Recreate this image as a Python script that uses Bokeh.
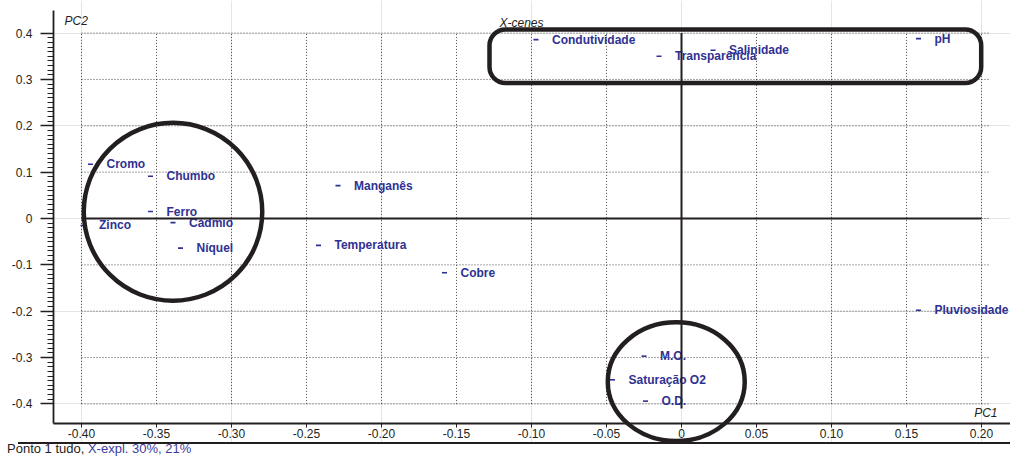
from bokeh.plotting import figure
from bokeh.layouts import column
from bokeh.models import (Range1d, LinearAxis, FixedTicker, NumeralTickFormatter,
                          BoxAnnotation, Label, ColumnDataSource, Div)
from bokeh.core.properties import value
from bokeh.embed import file_html
from bokeh.resources import INLINE

# PCA loadings of the water-quality variables (PC1, PC2)
variables = ["Cromo", "Chumbo", "Ferro", "Cádmio", "Zinco", "Níquel", "Manganês",
             "Temperatura", "Cobre", "Condutividade", "Transparência", "Salinidade",
             "pH", "Pluviosidade", "M.O.", "Saturação O2", "O.D."]
pc1 = [-0.394, -0.354, -0.354, -0.339, -0.399, -0.334, -0.229,
       -0.242, -0.158, -0.097, -0.015, 0.021,
       0.158, 0.158, -0.025, -0.046, -0.024]
pc2 = [0.117, 0.091, 0.015, -0.009, -0.015, -0.064, 0.071,
       -0.058, -0.117, 0.386, 0.350, 0.363,
       0.388, -0.198, -0.297, -0.348, -0.394]

x_ticks = [-0.40, -0.35, -0.30, -0.25, -0.20, -0.15, -0.10, -0.05, 0, 0.05, 0.10, 0.15, 0.20]
y_ticks = [-0.4, -0.3, -0.2, -0.1, 0, 0.1, 0.2, 0.3, 0.4]
y_minor = [round(v / 100, 2) for v in range(-39, 40) if v % 10 != 0]

# highlighted groups: circles (centre, width, height in PC units) and a rounded box
group_x = [-0.339, -0.0035]
group_y = [0.0145, -0.352]
group_w = [0.119, 0.0913]
group_h = [0.384, 0.256]
box_left, box_right, box_top, box_bottom = -0.128, 0.1998, 0.4078, 0.2921

INK = "#231f20"
BLUE = "#2e3192"
CAPTION_BLUE = "#3c3c9e"
GRID = "#4a4a4a"
FONT = "Liberation Sans"

W, H = 1010, 442               # plot canvas; the caption strip sits below it
CAPTION_H = 14
LEFT = 53                      # width of the PC2 axis panel
X0, X1 = -0.454, 0.21933       # PC1 at canvas x = 0 and x = W
Y1 = 0.47034                   # PC2 at the canvas top
PX_PER_PC2 = 463.5


def sx(px):
    return X0 + px * (X1 - X0) / W


def sy(py):
    return Y1 - py / PX_PER_PC2


p = figure(width=W, height=H, x_range=Range1d(sx(LEFT), X1), y_range=Range1d(sy(H), Y1),
           x_axis_location=None, y_axis_location=None, toolbar_location=None,
           output_backend="svg", min_border_left=LEFT, min_border_right=0,
           min_border_top=0, min_border_bottom=0, outline_line_color=None,
           background_fill_color="white", border_fill_color="white")

# PC2 axis in its own panel, line limited to the plotted span
yax = LinearAxis(bounds=(sy(423), sy(10)),
                 ticker=FixedTicker(ticks=y_ticks, minor_ticks=y_minor),
                 formatter=NumeralTickFormatter(format="0.0"),
                 major_label_overrides={0: "0"},
                 axis_line_color=INK, axis_line_width=1.8,
                 major_tick_in=0, major_tick_out=13, major_tick_line_width=1.5,
                 minor_tick_in=0, minor_tick_out=6, minor_tick_line_width=1,
                 major_tick_line_color=INK, minor_tick_line_color=INK,
                 major_label_standoff=8,
                 major_label_text_font=FONT, major_label_text_font_size="12px",
                 major_label_text_color=INK)
p.add_layout(yax, "left")

# dotted grid inside the loading range
gx0, gx1 = x_ticks[0], x_ticks[-1] + 0.005
gy0, gy1 = y_ticks[0], y_ticks[-1]
p.segment(x0=x_ticks, y0=[gy0] * len(x_ticks), x1=x_ticks, y1=[gy1] * len(x_ticks),
          line_color=GRID, line_width=1, line_dash="1 2")
p.segment(x0=[gx0] * len(y_ticks), y0=y_ticks, x1=[gx1] * len(y_ticks), y1=y_ticks,
          line_color=GRID, line_width=1, line_dash="1 2")

# PC1 axis rule
x_axis_y = sy(423)
p.segment(x0=[sx(18)], y0=[x_axis_y], x1=[X1], y1=[x_axis_y],
          line_color=INK, line_width=1.8)

xax = LinearAxis(fixed_location=x_axis_y,
                 ticker=FixedTicker(ticks=x_ticks, minor_ticks=[]),
                 formatter=NumeralTickFormatter(format="0.00"),
                 major_label_overrides={0: "0"},
                 axis_line_color=None,
                 major_tick_in=0, major_tick_out=4, minor_tick_out=0, minor_tick_in=0,
                 major_tick_line_color=INK, major_tick_line_width=1,
                 major_label_standoff=1,
                 major_label_text_font=FONT, major_label_text_font_size="12px",
                 major_label_text_color=INK)
p.add_layout(xax, "below")

src = ColumnDataSource(dict(name=variables, pc1=pc1, pc2=pc2))
p.scatter(x="pc1", y="pc2", marker="dash", size=5, line_color=BLUE, line_width=1.6,
          source=src)
p.text(x="pc1", y="pc2", text="name", x_offset=16, text_align="left",
       text_baseline="middle", text_font=value(FONT), text_font_style="bold",
       text_font_size="12px", text_color=BLUE, source=src)

# origin lines
p.segment(x0=[x_ticks[0], 0], y0=[0, -0.41], x1=[x_ticks[-1], 0], y1=[0, y_ticks[-1]],
          line_color=INK, line_width=2)

# group highlights
p.ellipse(x=group_x, y=group_y, width=group_w, height=group_h,
          fill_color=None, line_color=INK, line_width=4.5, level="overlay")
p.add_layout(BoxAnnotation(left=box_left, right=box_right, top=box_top, bottom=box_bottom,
                           border_radius=16, fill_color=None, fill_alpha=0,
                           line_color=INK, line_alpha=1, line_width=4.5))


# axis titles
def caption(text, px, py, align="left"):
    p.add_layout(Label(x=sx(px), y=sy(py), text=text, text_align=align,
                       text_baseline="middle", text_font=FONT, text_font_style="italic",
                       text_font_size="12px", text_color=INK))


caption("PC2", 64, 20)
caption("X-cenes", 499, 22)
caption("PC1", 997, 412, align="right")

# footer with the ruled line above it
footer = Div(text=f'Ponto 1 tudo, <span style="color:{CAPTION_BLUE}">X-expl. 30%, 21%</span>',
             width=W, height=CAPTION_H, margin=0,
             styles={"font-family": FONT, "font-size": "13px", "color": INK,
                     "line-height": f"{CAPTION_H}px", "padding-left": "7px",
                     "box-sizing": "border-box", "white-space": "nowrap",
                     "background-color": "white",
                     "background-image": f"linear-gradient({INK}, {INK})",
                     "background-repeat": "no-repeat",
                     "background-position": "18px 0px",
                     "background-size": f"{W - 18}px 2px"})

layout = column(p, footer, spacing=0)
open("out.html", "w", encoding="utf-8").write(file_html(layout, INLINE))
